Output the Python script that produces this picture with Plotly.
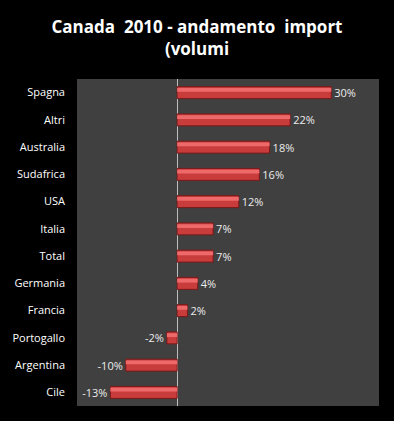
import plotly.graph_objects as go

categories = ["Spagna", "Altri", "Australia", "Sudafrica", "USA", "Italia", "Total",
              "Germania", "Francia", "Portogallo", "Argentina", "Cile"]
values = [30, 22, 18, 16, 12, 7, 7, 4, 2, -2, -10, -13]
labels = [f"{v}%" for v in values]

fig = go.Figure()
fig.add_trace(go.Bar(
    x=values, y=categories, orientation="h",
    text=labels, textposition="outside", cliponaxis=False, constraintext="none",
    textfont=dict(color="#ececec", size=11, family="Open Sans"),
    marker=dict(color="#c93c3c", line=dict(color="#7a1818", width=1)),
    width=0.44, hoverinfo="skip",
))
fig.add_trace(go.Bar(
    x=values, y=categories, orientation="h",
    marker=dict(color="#ee6a6a", line=dict(width=0)),
    width=0.14, offset=-0.17, hoverinfo="skip",
))

fig.update_layout(
    width=394, height=421,
    margin=dict(l=77, r=15, t=79, b=15),
    barmode="overlay",
    paper_bgcolor="black", plot_bgcolor="#404040",
    title=dict(text="<b>Canada  2010 - andamento  import<br>(volumi</b>",
               x=0.5, xanchor="center", y=0.922, yanchor="middle",
               font=dict(color="white", size=17, family="Open Sans")),
    showlegend=False,
    xaxis=dict(range=[-19.5, 39.3], showgrid=False, showticklabels=False,
               zeroline=True, zerolinecolor="#bdbdbd", zerolinewidth=1, fixedrange=True),
    yaxis=dict(autorange="reversed", showgrid=False, ticklabelstandoff=11, fixedrange=True,
               tickfont=dict(color="white", size=11, family="Open Sans")),
)

fig.write_html("out.html", config={"displayModeBar": False},
               post_script="document.body.style.margin='0';document.body.style.background='black';")
